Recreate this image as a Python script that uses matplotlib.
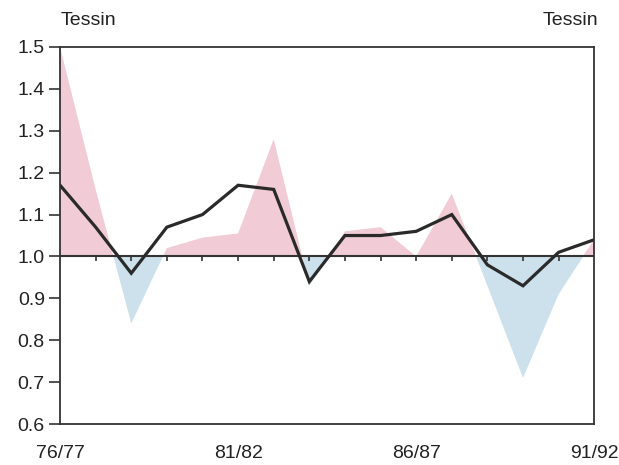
import numpy as np
import matplotlib
matplotlib.use("Agg")
import matplotlib.pyplot as plt

plt.rcParams['font.family'] = ['Liberation Sans', 'DejaVu Sans']

# seasons 76/77 .. 91/92
seasons = ["76/77", "77/78", "78/79", "79/80", "80/81", "81/82", "82/83", "83/84",
           "84/85", "85/86", "86/87", "87/88", "88/89", "89/90", "90/91", "91/92"]
# shaded series (relative to 1.0)
area_vals = [1.50, 1.16, 0.84, 1.02, 1.045, 1.055, 1.28, 0.93,
             1.06, 1.07, 1.00, 1.15, 0.93, 0.71, 0.91, 1.04]
# black line
line_vals = [1.17, 1.07, 0.96, 1.07, 1.10, 1.17, 1.16, 0.94,
             1.05, 1.05, 1.06, 1.10, 0.98, 0.93, 1.01, 1.04]
tick_labels = ["76/77", "81/82", "86/87", "91/92"]
yticks = [0.6, 0.7, 0.8, 0.9, 1.0, 1.1, 1.2, 1.3, 1.4, 1.5]

x = np.arange(len(seasons))
a = np.array(area_vals)

fig = plt.figure(figsize=(6.19, 4.65), dpi=100)
ax = fig.add_axes([0.097, 0.088, 0.863, 0.811])

ax.fill_between(x, 1.0, a, where=a >= 1.0, interpolate=True,
                color="#f1cbd5", linewidth=0)
ax.fill_between(x, 1.0, a, where=a <= 1.0, interpolate=True,
                color="#cce1eb", linewidth=0)

ax.axhline(1.0, color="#333333", lw=1.5)
ax.vlines(x[1:-1], 0.99, 1.0, color="#333333", lw=1.2)
ax.plot(x, line_vals, color="#2a2a2a", lw=2.3, solid_joinstyle="miter")

ax.set_xlim(0, len(seasons) - 1)
ax.set_ylim(0.6, 1.5)
ax.set_yticks(yticks)
ax.set_yticklabels([f"{v:.1f}" for v in yticks])
ax.set_xticks([seasons.index(t) for t in tick_labels])
ax.set_xticklabels(tick_labels)
ax.tick_params(axis="y", direction="out", length=8, width=1.2, colors="#333333",
               labelsize=14, labelcolor="#222222", pad=3)
ax.tick_params(axis="x", length=0, labelsize=14, labelcolor="#222222", pad=15)
for s in ax.spines.values():
    s.set_color("#333333")
    s.set_linewidth(1.3)

fig.text(0.098, 0.955, "Tessin", fontsize=14, color="#222222", ha="left", va="center")
fig.text(0.966, 0.955, "Tessin", fontsize=14, color="#222222", ha="right", va="center")

fig.savefig("out.png", dpi=100)
